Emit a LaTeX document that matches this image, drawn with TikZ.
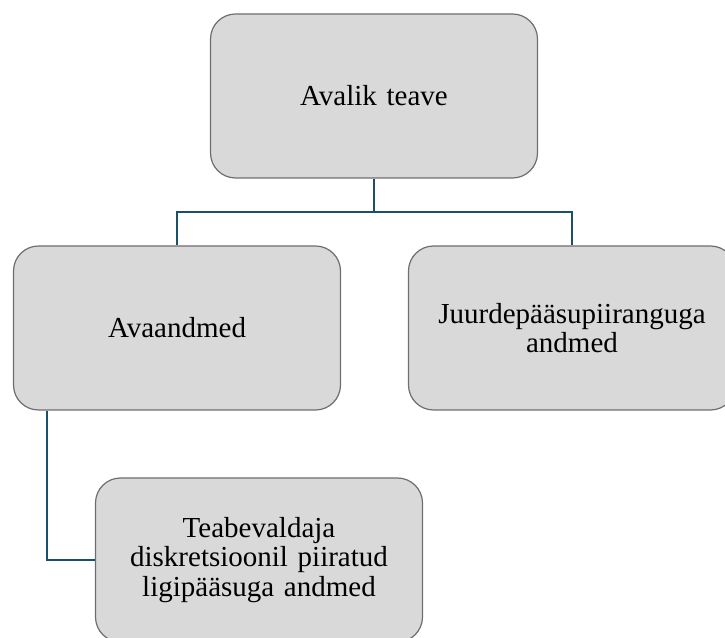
\documentclass[tikz,border=0pt]{standalone}
\usepackage{fontspec}
\setmainfont{Liberation Serif}
\definecolor{boxfill}{HTML}{D9D9D9}
\definecolor{boxline}{HTML}{6E6E6E}
\definecolor{conn}{HTML}{1B4F6B}
\begin{document}
\begin{tikzpicture}[x=1pt,y=1pt,
  box/.style={draw=boxline,fill=boxfill,line width=1.2pt,rounded corners=25pt,
    minimum width=327pt,minimum height=164pt,align=center,inner sep=0pt,
    font=\fontsize{29}{29.5}\selectfont,text width=310pt},
  link/.style={draw=conn,line width=2.4pt}]
\useasboundingbox (0,0) rectangle (725,637);
\clip (0,0) rectangle (725,637);
\node[box] (top) at (374,541) {Avalik teave};
\node[box] (left) at (177,309) {Avaandmed};
\node[box] (right) at (572,309) {Juurdepääsupiiranguga\\andmed};
\node[box] (bot) at (259,77) {Teabevaldaja\\diskretsioonil piiratud\\ligipääsuga andmed};
\coordinate (mid) at (374,425);
\draw[link] (top.south) -- (mid) -| (left.north);
\draw[link] (mid) -| (right.north);
\draw[link] ([xshift=-130pt]left.south) |- (bot.west);
\end{tikzpicture}
\end{document}
